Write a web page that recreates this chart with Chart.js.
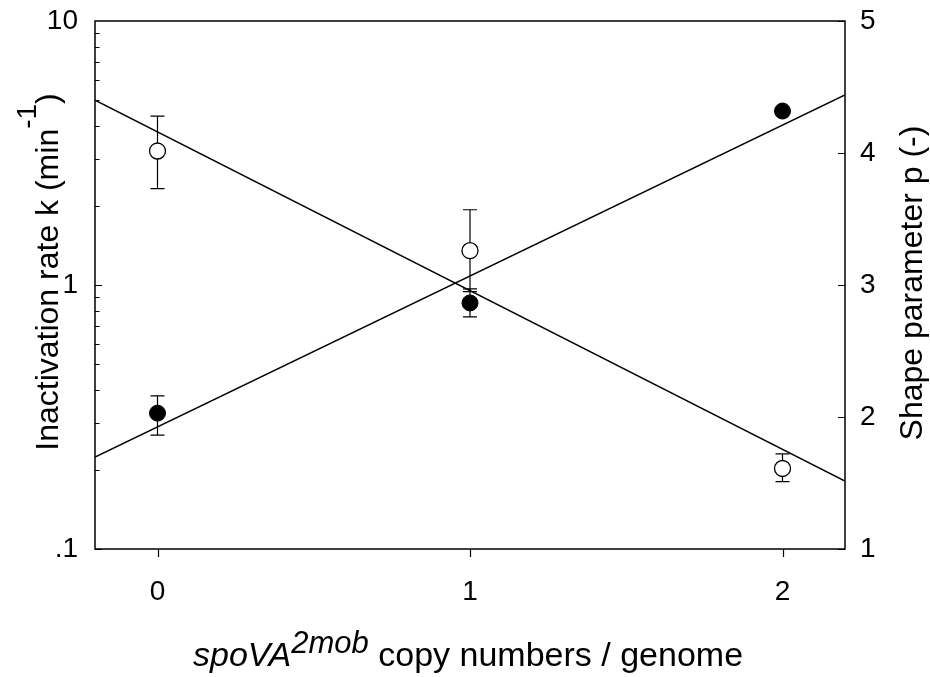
<!DOCTYPE html>
<html>
<head>
<meta charset="utf-8">
<script src="https://cdn.jsdelivr.net/npm/chart.js@4/dist/chart.umd.min.js"></script>
<style>
html,body{margin:0;padding:0;background:#fff;}
#wrap{width:930px;height:677px;position:relative;}
</style>
</head>
<body>
<div id="wrap"><canvas id="c" width="930" height="677"></canvas></div>
<script>
// ---- data ----
const copyNumbers = [0, 1, 2];
const kValues  = [0.327, 0.855, 4.56];   // inactivation rate k (filled circles, left log axis)
const kLow     = [0.27, 0.757, 4.42];
const kHigh    = [0.38, 0.966, 4.70];
const pValues  = [4.015, 3.26, 1.61];    // shape parameter p (open circles, right axis)
const pLow     = [3.73, 2.95, 1.51];
const pHigh    = [4.28, 3.57, 1.72];
const kFitX    = [-0.2, 2.2];
const kFitY    = [0.223, 5.25];
const pFitX    = [-0.2, 2.2];
const pFitY    = [4.40, 1.515];
const xTicks   = [0, 1, 2];
const kTicks   = [0.1, 1, 10];
const kTickLabels = ['.1', '1', '10'];
const pTicks   = [1, 2, 3, 4, 5];

const FONT = "'Liberation Sans', Arial, Helvetica, sans-serif";
const BLACK = '#000';
const TICK_SIZE = 28;

const pts = (xs, ys) => xs.map((x, i) => ({x: x, y: ys[i]}));

const framePlugin = {
  id: 'frame',
  beforeDatasetsDraw(chart) {
    const ctx = chart.ctx;
    const xs = chart.scales.x, ys = chart.scales.y, ps = chart.scales.y2;
    ctx.save();
    ctx.strokeStyle = BLACK;
    ctx.lineWidth = 1.2;
    const cap = 7;
    const bar = (x, lo, hi, scale) => {
      const px = xs.getPixelForValue(x);
      const y1 = scale.getPixelForValue(lo), y2 = scale.getPixelForValue(hi);
      ctx.beginPath();
      ctx.moveTo(px, y1); ctx.lineTo(px, y2);
      ctx.moveTo(px - cap, y1); ctx.lineTo(px + cap, y1);
      ctx.moveTo(px - cap, y2); ctx.lineTo(px + cap, y2);
      ctx.stroke();
    };
    copyNumbers.forEach((x, i) => {
      bar(x, kLow[i], kHigh[i], ys);
      bar(x, pLow[i], pHigh[i], ps);
    });
    ctx.restore();
  },
  afterDraw(chart) {
    const ctx = chart.ctx;
    const a = chart.chartArea;
    const xs = chart.scales.x, ys = chart.scales.y, ps = chart.scales.y2;
    ctx.save();
    ctx.strokeStyle = BLACK;
    ctx.lineWidth = 1.5;
    ctx.strokeRect(a.left, a.top, a.right - a.left, a.bottom - a.top);
    ctx.lineWidth = 1.2;
    ctx.beginPath();
    // x ticks (outside, downward)
    xTicks.forEach(v => {
      const px = Math.round(xs.getPixelForValue(v)) + 0.5;
      ctx.moveTo(px, a.bottom); ctx.lineTo(px, a.bottom + 8);
    });
    // left log ticks (inside)
    for (let d = 0.1; d < 10; d *= 10) {
      for (let m = 1; m <= 9; m++) {
        const v = d * m;
        const py = Math.round(ys.getPixelForValue(v)) + 0.5;
        const len = (m === 1) ? 7 : 4.5;
        ctx.moveTo(a.left, py); ctx.lineTo(a.left + len, py);
      }
    }
    // right ticks (inside)
    pTicks.forEach(v => {
      const py = Math.round(ps.getPixelForValue(v)) + 0.5;
      ctx.moveTo(a.right, py); ctx.lineTo(a.right - 7, py);
    });
    ctx.stroke();

    // axis titles
    ctx.fillStyle = BLACK;
    ctx.textBaseline = 'alphabetic';
    // x title
    const main = '34px ' + FONT, ital = 'italic 34px ' + FONT, sup = 'italic 31px ' + FONT;
    const parts = [
      {t: 'spoVA', f: ital, dy: 0},
      {t: '2mob', f: sup, dy: -13},
      {t: ' copy numbers / genome', f: main, dy: 0}
    ];
    let total = 0;
    parts.forEach(p => { ctx.font = p.f; p.w = ctx.measureText(p.t).width; total += p.w; });
    let x0 = 193;
    ctx.textAlign = 'left';
    parts.forEach(p => { ctx.font = p.f; ctx.fillText(p.t, x0, 666 + p.dy); x0 += p.w; });

    // left title (rotated -90)
    ctx.save();
    ctx.translate(58, 272);
    ctx.rotate(-Math.PI / 2);
    const lparts = [
      {t: 'Inactivation rate k (min', f: '32px ' + FONT, dy: 0},
      {t: '-1', f: '28px ' + FONT, dy: -22},
      {t: ')', f: '32px ' + FONT, dy: 0}
    ];
    total = 0;
    lparts.forEach(p => { ctx.font = p.f; p.w = ctx.measureText(p.t).width; total += p.w; });
    x0 = -total / 2;
    lparts.forEach(p => { ctx.font = p.f; ctx.fillText(p.t, x0, p.dy); x0 += p.w; });
    ctx.restore();

    // right title (rotated -90)
    ctx.save();
    ctx.translate(922, 283);
    ctx.rotate(-Math.PI / 2);
    ctx.font = '32px ' + FONT;
    ctx.textAlign = 'center';
    ctx.fillText('Shape parameter p (-)', 0, 0);
    ctx.restore();
    ctx.restore();
  }
};

new Chart(document.getElementById('c'), {
  type: 'scatter',
  data: {
    datasets: [
      { data: pts(copyNumbers, kValues), yAxisID: 'y', order: 0,
        pointRadius: 8, pointHoverRadius: 8, pointBackgroundColor: BLACK, pointBorderColor: BLACK, pointBorderWidth: 1, showLine: false },
      { data: pts(copyNumbers, pValues), yAxisID: 'y2', order: 0,
        pointRadius: 8, pointHoverRadius: 8, pointBackgroundColor: '#fff', pointBorderColor: BLACK, pointBorderWidth: 1.3, showLine: false },
      { data: pts(kFitX, kFitY), yAxisID: 'y', order: 1, showLine: true,
        pointRadius: 0, borderColor: BLACK, borderWidth: 1.5, fill: false, tension: 0 },
      { data: pts(pFitX, pFitY), yAxisID: 'y2', order: 1, showLine: true,
        pointRadius: 0, borderColor: BLACK, borderWidth: 1.5, fill: false, tension: 0 }
    ]
  },
  options: {
    responsive: false,
    animation: false,
    events: [],
    layout: { padding: { top: 21, left: 0, right: 0, bottom: 0 } },
    plugins: { legend: { display: false }, tooltip: { enabled: false }, title: { display: false } },
    scales: {
      x: {
        type: 'linear', min: -0.2, max: 2.2, position: 'bottom',
        afterBuildTicks: s => { s.ticks = xTicks.map(v => ({value: v})); },
        afterFit: s => { s.height = 128; s.paddingLeft = 0; s.paddingRight = 0; },
        grid: { display: false, drawTicks: false },
        border: { display: false },
        ticks: { color: BLACK, font: { family: FONT, size: TICK_SIZE }, padding: 26, callback: v => String(v) }
      },
      y: {
        type: 'logarithmic', min: 0.1, max: 10, position: 'left',
        afterBuildTicks: s => { s.ticks = kTicks.map(v => ({value: v})); },
        afterFit: s => { s.width = 95; s.paddingTop = 0; s.paddingBottom = 0; },
        grid: { display: false, drawTicks: false },
        border: { display: false },
        ticks: { color: BLACK, font: { family: FONT, size: TICK_SIZE }, padding: 17,
          callback: v => { const i = kTicks.findIndex(t => Math.abs(t - v) < 1e-9); return i >= 0 ? kTickLabels[i] : ''; } }
      },
      y2: {
        type: 'linear', min: 1, max: 5, position: 'right',
        afterBuildTicks: s => { s.ticks = pTicks.map(v => ({value: v})); },
        afterFit: s => { s.width = 85; s.paddingTop = 0; s.paddingBottom = 0; },
        grid: { display: false, drawTicks: false },
        border: { display: false },
        ticks: { color: BLACK, font: { family: FONT, size: TICK_SIZE }, padding: 15, callback: v => String(v) }
      }
    }
  },
  plugins: [framePlugin]
});
</script>
</body>
</html>
